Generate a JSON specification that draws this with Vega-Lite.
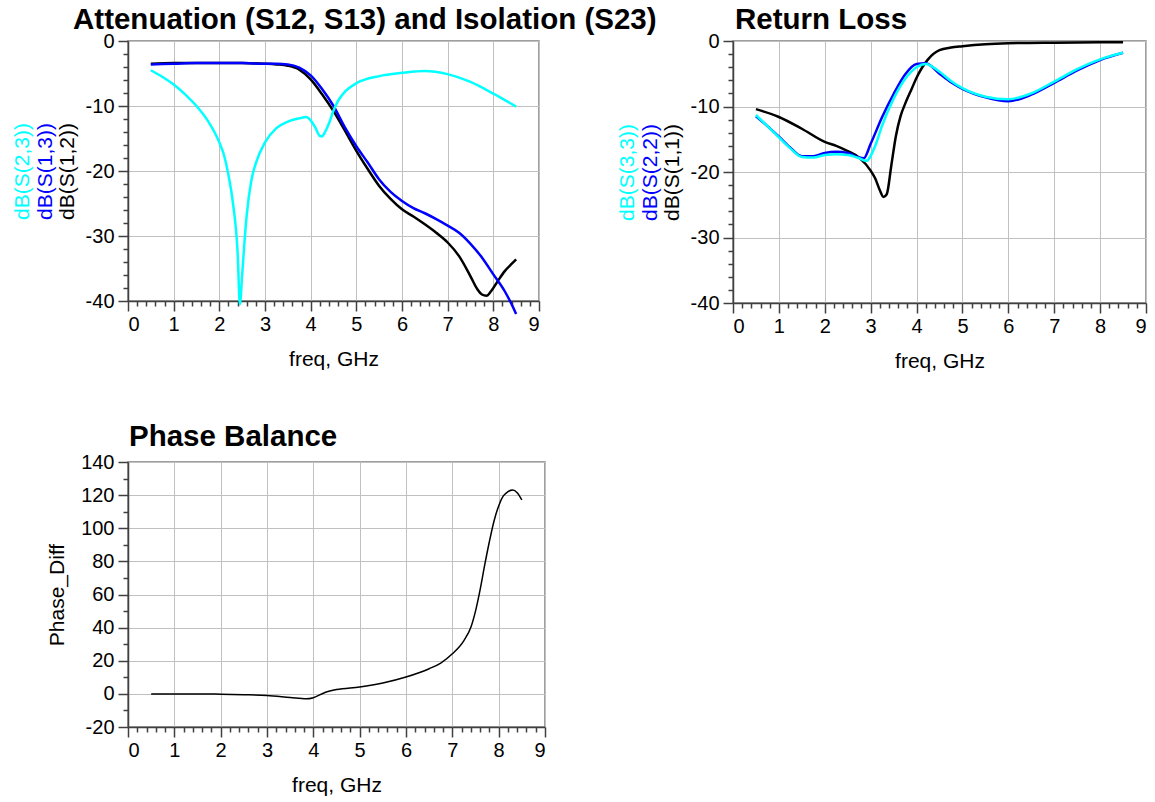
{
  "$schema": "https://vega.github.io/schema/vega-lite/v6.json",
  "padding": {"left": 10, "top": 3, "right": 5, "bottom": 0},
  "config": {
    "font": "Liberation Sans",
    "locale": {"number": {"decimal": ".", "thousands": ",", "grouping": [3], "currency": ["$", ""], "minus": "-"}},
    "view": {"stroke": "#808080", "strokeWidth": 1.5},
    "axis": {
      "labelFont": "Liberation Sans", "labelFontSize": 20, "labelColor": "#000000",
      "titleFont": "Liberation Sans", "titleFontSize": 21, "titleFontWeight": "normal", "titleColor": "#000000",
      "gridColor": "#c0c0c0", "gridOpacity": 1, "gridWidth": 1,
      "domainColor": "#404040", "domainWidth": 1.5, "tickColor": "#404040", "tickWidth": 1.5
    },
    "title": {"font": "Liberation Sans", "fontSize": 29.5, "fontWeight": "bold", "anchor": "start", "color": "#000000", "frame": "group", "baseline": "alphabetic"},
    "line": {"clip": true, "interpolate": "monotone", "strokeWidth": 2.5}
  },
  "datasets": {
    "att": [
      {"f": 0.5, "trace": "S12", "v": -3.5}, {"f": 1, "trace": "S12", "v": -3.4}, {"f": 1.5, "trace": "S12", "v": -3.4}, {"f": 2, "trace": "S12", "v": -3.4}, {"f": 2.5, "trace": "S12", "v": -3.4}, {"f": 3, "trace": "S12", "v": -3.5}, {"f": 3.25, "trace": "S12", "v": -3.6}, {"f": 3.5, "trace": "S12", "v": -3.8}, {"f": 3.75, "trace": "S12", "v": -4.4}, {"f": 4, "trace": "S12", "v": -5.9}, {"f": 4.25, "trace": "S12", "v": -8.2}, {"f": 4.5, "trace": "S12", "v": -10.8}, {"f": 4.75, "trace": "S12", "v": -13.8}, {"f": 5, "trace": "S12", "v": -16.9}, {"f": 5.25, "trace": "S12", "v": -19.7}, {"f": 5.5, "trace": "S12", "v": -22.3}, {"f": 5.75, "trace": "S12", "v": -24.3}, {"f": 6, "trace": "S12", "v": -25.9}, {"f": 6.25, "trace": "S12", "v": -27.0}, {"f": 6.5, "trace": "S12", "v": -28.2}, {"f": 6.75, "trace": "S12", "v": -29.5}, {"f": 7, "trace": "S12", "v": -31.0}, {"f": 7.25, "trace": "S12", "v": -33.1}, {"f": 7.5, "trace": "S12", "v": -36.2}, {"f": 7.65, "trace": "S12", "v": -38.2}, {"f": 7.75, "trace": "S12", "v": -39.0}, {"f": 7.85, "trace": "S12", "v": -39.2}, {"f": 7.95, "trace": "S12", "v": -38.5}, {"f": 8.1, "trace": "S12", "v": -36.9}, {"f": 8.25, "trace": "S12", "v": -35.4}, {"f": 8.4, "trace": "S12", "v": -34.3}, {"f": 8.5, "trace": "S12", "v": -33.6},
      {"f": 0.5, "trace": "S13", "v": -3.6}, {"f": 1, "trace": "S13", "v": -3.5}, {"f": 1.5, "trace": "S13", "v": -3.4}, {"f": 2, "trace": "S13", "v": -3.4}, {"f": 2.5, "trace": "S13", "v": -3.4}, {"f": 3, "trace": "S13", "v": -3.5}, {"f": 3.25, "trace": "S13", "v": -3.5}, {"f": 3.5, "trace": "S13", "v": -3.6}, {"f": 3.75, "trace": "S13", "v": -4.1}, {"f": 4, "trace": "S13", "v": -5.3}, {"f": 4.25, "trace": "S13", "v": -7.4}, {"f": 4.5, "trace": "S13", "v": -10.0}, {"f": 4.75, "trace": "S13", "v": -13.3}, {"f": 5, "trace": "S13", "v": -16.2}, {"f": 5.25, "trace": "S13", "v": -18.7}, {"f": 5.5, "trace": "S13", "v": -21.3}, {"f": 5.75, "trace": "S13", "v": -23.2}, {"f": 6, "trace": "S13", "v": -24.6}, {"f": 6.25, "trace": "S13", "v": -25.7}, {"f": 6.5, "trace": "S13", "v": -26.5}, {"f": 6.75, "trace": "S13", "v": -27.4}, {"f": 7, "trace": "S13", "v": -28.4}, {"f": 7.25, "trace": "S13", "v": -29.5}, {"f": 7.5, "trace": "S13", "v": -31.2}, {"f": 7.75, "trace": "S13", "v": -33.3}, {"f": 8, "trace": "S13", "v": -35.9}, {"f": 8.25, "trace": "S13", "v": -38.5}, {"f": 8.4, "trace": "S13", "v": -40.5}, {"f": 8.5, "trace": "S13", "v": -42},
      {"f": 0.5, "trace": "S23", "v": -4.5}, {"f": 0.75, "trace": "S23", "v": -5.5}, {"f": 1, "trace": "S23", "v": -6.7}, {"f": 1.25, "trace": "S23", "v": -8.2}, {"f": 1.5, "trace": "S23", "v": -10.0}, {"f": 1.75, "trace": "S23", "v": -12.3}, {"f": 2, "trace": "S23", "v": -15.6}, {"f": 2.1, "trace": "S23", "v": -17.5}, {"f": 2.2, "trace": "S23", "v": -20.6}, {"f": 2.3, "trace": "S23", "v": -25.0}, {"f": 2.4, "trace": "S23", "v": -32.5}, {"f": 2.45, "trace": "S23", "v": -40.5}, {"f": 2.5, "trace": "S23", "v": -36}, {"f": 2.55, "trace": "S23", "v": -31}, {"f": 2.6, "trace": "S23", "v": -26.8}, {"f": 2.7, "trace": "S23", "v": -21.5}, {"f": 2.8, "trace": "S23", "v": -18.8}, {"f": 3, "trace": "S23", "v": -15.6}, {"f": 3.25, "trace": "S23", "v": -13.4}, {"f": 3.5, "trace": "S23", "v": -12.4}, {"f": 3.75, "trace": "S23", "v": -11.9}, {"f": 3.9, "trace": "S23", "v": -11.7}, {"f": 4, "trace": "S23", "v": -12.2}, {"f": 4.1, "trace": "S23", "v": -13.3}, {"f": 4.2, "trace": "S23", "v": -14.6}, {"f": 4.25, "trace": "S23", "v": -14.7}, {"f": 4.3, "trace": "S23", "v": -14.2}, {"f": 4.4, "trace": "S23", "v": -12.7}, {"f": 4.5, "trace": "S23", "v": -10.7}, {"f": 4.6, "trace": "S23", "v": -9.2}, {"f": 4.75, "trace": "S23", "v": -7.8}, {"f": 5, "trace": "S23", "v": -6.5}, {"f": 5.5, "trace": "S23", "v": -5.4}, {"f": 6, "trace": "S23", "v": -4.9}, {"f": 6.5, "trace": "S23", "v": -4.6}, {"f": 7, "trace": "S23", "v": -5.1}, {"f": 7.5, "trace": "S23", "v": -6.3}, {"f": 8, "trace": "S23", "v": -8.1}, {"f": 8.5, "trace": "S23", "v": -10.1}
    ],
    "ret": [
      {"f": 0.5, "trace": "S11", "v": -10.4}, {"f": 1, "trace": "S11", "v": -11.6}, {"f": 1.5, "trace": "S11", "v": -13.4}, {"f": 2, "trace": "S11", "v": -15.4}, {"f": 2.25, "trace": "S11", "v": -16.0}, {"f": 2.5, "trace": "S11", "v": -16.8}, {"f": 2.75, "trace": "S11", "v": -17.8}, {"f": 3, "trace": "S11", "v": -19.8}, {"f": 3.1, "trace": "S11", "v": -21.0}, {"f": 3.2, "trace": "S11", "v": -22.8}, {"f": 3.28, "trace": "S11", "v": -23.8}, {"f": 3.35, "trace": "S11", "v": -23.4}, {"f": 3.45, "trace": "S11", "v": -19.0}, {"f": 3.55, "trace": "S11", "v": -14.5}, {"f": 3.65, "trace": "S11", "v": -11.5}, {"f": 3.75, "trace": "S11", "v": -9.6}, {"f": 3.9, "trace": "S11", "v": -7.2}, {"f": 4, "trace": "S11", "v": -5.6}, {"f": 4.25, "trace": "S11", "v": -2.8}, {"f": 4.5, "trace": "S11", "v": -1.4}, {"f": 4.75, "trace": "S11", "v": -1.0}, {"f": 5, "trace": "S11", "v": -0.8}, {"f": 5.5, "trace": "S11", "v": -0.5}, {"f": 6, "trace": "S11", "v": -0.35}, {"f": 7, "trace": "S11", "v": -0.25}, {"f": 8, "trace": "S11", "v": -0.2}, {"f": 8.5, "trace": "S11", "v": -0.2},
      {"f": 0.5, "trace": "S22", "v": -11.5}, {"f": 0.75, "trace": "S22", "v": -13.0}, {"f": 1, "trace": "S22", "v": -14.6}, {"f": 1.25, "trace": "S22", "v": -16.3}, {"f": 1.5, "trace": "S22", "v": -17.6}, {"f": 1.75, "trace": "S22", "v": -17.6}, {"f": 2, "trace": "S22", "v": -17.1}, {"f": 2.25, "trace": "S22", "v": -16.9}, {"f": 2.5, "trace": "S22", "v": -17.1}, {"f": 2.75, "trace": "S22", "v": -17.8}, {"f": 2.85, "trace": "S22", "v": -17.9}, {"f": 3, "trace": "S22", "v": -15.7}, {"f": 3.25, "trace": "S22", "v": -11.6}, {"f": 3.5, "trace": "S22", "v": -8.1}, {"f": 3.75, "trace": "S22", "v": -5.1}, {"f": 4, "trace": "S22", "v": -3.5}, {"f": 4.2, "trace": "S22", "v": -3.4}, {"f": 4.5, "trace": "S22", "v": -5.0}, {"f": 4.75, "trace": "S22", "v": -6.3}, {"f": 5, "trace": "S22", "v": -7.3}, {"f": 5.5, "trace": "S22", "v": -8.6}, {"f": 6, "trace": "S22", "v": -9.2}, {"f": 6.5, "trace": "S22", "v": -8.2}, {"f": 7, "trace": "S22", "v": -6.4}, {"f": 7.5, "trace": "S22", "v": -4.5}, {"f": 8, "trace": "S22", "v": -2.9}, {"f": 8.5, "trace": "S22", "v": -1.8},
      {"f": 0.5, "trace": "S33", "v": -11.3}, {"f": 0.75, "trace": "S33", "v": -13.0}, {"f": 1, "trace": "S33", "v": -14.7}, {"f": 1.25, "trace": "S33", "v": -16.4}, {"f": 1.5, "trace": "S33", "v": -17.7}, {"f": 1.75, "trace": "S33", "v": -17.8}, {"f": 2, "trace": "S33", "v": -17.4}, {"f": 2.25, "trace": "S33", "v": -17.3}, {"f": 2.5, "trace": "S33", "v": -17.4}, {"f": 2.75, "trace": "S33", "v": -17.9}, {"f": 2.9, "trace": "S33", "v": -18.3}, {"f": 3.1, "trace": "S33", "v": -16.0}, {"f": 3.25, "trace": "S33", "v": -12.9}, {"f": 3.5, "trace": "S33", "v": -8.8}, {"f": 3.75, "trace": "S33", "v": -5.8}, {"f": 4, "trace": "S33", "v": -4.0}, {"f": 4.2, "trace": "S33", "v": -3.5}, {"f": 4.5, "trace": "S33", "v": -4.7}, {"f": 4.75, "trace": "S33", "v": -6.1}, {"f": 5, "trace": "S33", "v": -7.2}, {"f": 5.5, "trace": "S33", "v": -8.5}, {"f": 6, "trace": "S33", "v": -8.9}, {"f": 6.5, "trace": "S33", "v": -8.0}, {"f": 7, "trace": "S33", "v": -6.2}, {"f": 7.5, "trace": "S33", "v": -4.3}, {"f": 8, "trace": "S33", "v": -2.8}, {"f": 8.5, "trace": "S33", "v": -1.8}
    ],
    "phase": [
      {"f": 0.5, "v": 0}, {"f": 1, "v": 0}, {"f": 1.5, "v": 0}, {"f": 2, "v": -0.2}, {"f": 2.5, "v": -0.5}, {"f": 3, "v": -1.0}, {"f": 3.5, "v": -2.2}, {"f": 3.85, "v": -3.0}, {"f": 4, "v": -2.3}, {"f": 4.25, "v": 0.8}, {"f": 4.5, "v": 2.6}, {"f": 5, "v": 4.2}, {"f": 5.5, "v": 6.6}, {"f": 6, "v": 10.2}, {"f": 6.5, "v": 15.2}, {"f": 6.75, "v": 18.6}, {"f": 7, "v": 24.2}, {"f": 7.25, "v": 32.2}, {"f": 7.4, "v": 40.2}, {"f": 7.5, "v": 50}, {"f": 7.6, "v": 63}, {"f": 7.7, "v": 78}, {"f": 7.8, "v": 92}, {"f": 7.9, "v": 104.4}, {"f": 8.0, "v": 113.5}, {"f": 8.1, "v": 119.5}, {"f": 8.2, "v": 122.1}, {"f": 8.3, "v": 123.1}, {"f": 8.4, "v": 121.5}, {"f": 8.5, "v": 117.1}
    ]
  },
  "columns": 2,
  "bounds": "flush",
  "spacing": {"column": 188, "row": 159},
  "concat": [
    {
      "width": 411, "height": 260,
      "title": {"text": "Attenuation (S12, S13) and Isolation (S23)", "dx": -55, "offset": -4},
      "data": {"name": "att"},
      "layer": [
        {
          "transform": [{"filter": "datum.trace === 'S12'"}],
          "mark": {"type": "line", "color": "#000000"},
          "encoding": {
            "x": {"field": "f", "type": "quantitative", "scale": {"domain": [0, 9], "nice": false, "zero": false},
              "axis": {"orient": "bottom", "values": [0,1,2,3,4,5,6,7,8,9], "grid": true, "tickSize": 10, "labelPadding": 3, "title": "freq, GHz", "titlePadding": 14}},
            "y": {"field": "v", "type": "quantitative", "scale": {"domain": [-40, 0], "nice": false, "zero": false},
              "axis": {"orient": "left", "values": [-40,-30,-20,-10,0], "grid": true, "tickSize": 10, "labelPadding": 4, "title": "dB(S(1,2))", "titlePadding": 8}}
          }
        },
        {
          "transform": [{"filter": "datum.trace === 'S13'"}],
          "mark": {"type": "line", "color": "#0000ff"},
          "encoding": {
            "x": {"field": "f", "type": "quantitative",
              "axis": {"orient": "bottom", "values": [0.2,0.4,0.6,0.8,1.2,1.4,1.6,1.8,2.2,2.4,2.6,2.8,3.2,3.4,3.6,3.8,4.2,4.4,4.6,4.8,5.2,5.4,5.6,5.8,6.2,6.4,6.6,6.8,7.2,7.4,7.6,7.8,8.2,8.4,8.6,8.8], "grid": false, "labels": false, "domain": false, "tickSize": 5, "title": null}},
            "y": {"field": "v", "type": "quantitative",
              "axis": {"orient": "left", "values": [-38,-36,-34,-32,-28,-26,-24,-22,-18,-16,-14,-12,-8,-6,-4,-2], "grid": false, "labels": false, "domain": false, "tickSize": 5, "title": "dB(S(1,3))", "titleColor": "#0000ff", "titlePadding": 67}}
          }
        },
        {
          "transform": [{"filter": "datum.trace === 'S23'"}],
          "mark": {"type": "line", "color": "#00ffff"},
          "encoding": {
            "x": {"field": "f", "type": "quantitative", "axis": null},
            "y": {"field": "v", "type": "quantitative",
              "axis": {"orient": "left", "grid": false, "labels": false, "domain": false, "ticks": false, "title": "dB(S(2,3))", "titleColor": "#00ffff", "titlePadding": 96}}
          }
        }
      ],
      "resolve": {"axis": {"x": "independent", "y": "independent"}}
    },
    {
      "width": 413, "height": 262,
      "title": {"text": "Return Loss", "dx": 2, "offset": -4},
      "data": {"name": "ret"},
      "layer": [
        {
          "transform": [{"filter": "datum.trace === 'S11'"}],
          "mark": {"type": "line", "color": "#000000"},
          "encoding": {
            "x": {"field": "f", "type": "quantitative", "scale": {"domain": [0, 9], "nice": false, "zero": false},
              "axis": {"orient": "bottom", "values": [0,1,2,3,4,5,6,7,8,9], "grid": true, "tickSize": 10, "labelPadding": 3, "title": "freq, GHz", "titlePadding": 14}},
            "y": {"field": "v", "type": "quantitative", "scale": {"domain": [-40, 0], "nice": false, "zero": false},
              "axis": {"orient": "left", "values": [-40,-30,-20,-10,0], "grid": true, "tickSize": 10, "labelPadding": 4, "title": "dB(S(1,1))", "titlePadding": 8}}
          }
        },
        {
          "transform": [{"filter": "datum.trace === 'S22'"}],
          "mark": {"type": "line", "color": "#0000ff"},
          "encoding": {
            "x": {"field": "f", "type": "quantitative",
              "axis": {"orient": "bottom", "values": [0.2,0.4,0.6,0.8,1.2,1.4,1.6,1.8,2.2,2.4,2.6,2.8,3.2,3.4,3.6,3.8,4.2,4.4,4.6,4.8,5.2,5.4,5.6,5.8,6.2,6.4,6.6,6.8,7.2,7.4,7.6,7.8,8.2,8.4,8.6,8.8], "grid": false, "labels": false, "domain": false, "tickSize": 5, "title": null}},
            "y": {"field": "v", "type": "quantitative",
              "axis": {"orient": "left", "values": [-38,-36,-34,-32,-28,-26,-24,-22,-18,-16,-14,-12,-8,-6,-4,-2], "grid": false, "labels": false, "domain": false, "tickSize": 5, "title": "dB(S(2,2))", "titleColor": "#0000ff", "titlePadding": 67}}
          }
        },
        {
          "transform": [{"filter": "datum.trace === 'S33'"}],
          "mark": {"type": "line", "color": "#00ffff"},
          "encoding": {
            "x": {"field": "f", "type": "quantitative", "axis": null},
            "y": {"field": "v", "type": "quantitative",
              "axis": {"orient": "left", "grid": false, "labels": false, "domain": false, "ticks": false, "title": "dB(S(3,3))", "titleColor": "#00ffff", "titlePadding": 96}}
          }
        }
      ],
      "resolve": {"axis": {"x": "independent", "y": "independent"}}
    },
    {
      "width": 417, "height": 265,
      "title": {"text": "Phase Balance", "dx": 1, "offset": 0},
      "data": {"name": "phase"},
      "layer": [
        {
          "mark": {"type": "line", "color": "#000000", "strokeWidth": 1.5},
          "encoding": {
            "x": {"field": "f", "type": "quantitative", "scale": {"domain": [0, 9], "nice": false, "zero": false},
              "axis": {"orient": "bottom", "values": [0,1,2,3,4,5,6,7,8,9], "grid": true, "tickSize": 10, "labelPadding": 3, "title": "freq, GHz", "titlePadding": 14}},
            "y": {"field": "v", "type": "quantitative", "scale": {"domain": [-20, 140], "nice": false, "zero": false},
              "axis": {"orient": "left", "values": [-20,0,20,40,60,80,100,120,140], "grid": true, "tickSize": 10, "labelPadding": 4, "title": "Phase_Diff", "titlePadding": 13}}
          }
        },
        {
          "mark": {"type": "line", "color": "#000000", "strokeWidth": 1.5, "opacity": 0},
          "encoding": {
            "x": {"field": "f", "type": "quantitative",
              "axis": {"orient": "bottom", "values": [0.2,0.4,0.6,0.8,1.2,1.4,1.6,1.8,2.2,2.4,2.6,2.8,3.2,3.4,3.6,3.8,4.2,4.4,4.6,4.8,5.2,5.4,5.6,5.8,6.2,6.4,6.6,6.8,7.2,7.4,7.6,7.8,8.2,8.4,8.6,8.8], "grid": false, "labels": false, "domain": false, "tickSize": 5, "title": null}},
            "y": {"field": "v", "type": "quantitative",
              "axis": {"orient": "left", "values": [-10,10,30,50,70,90,110,130], "grid": false, "labels": false, "domain": false, "tickSize": 5, "title": null}}
          }
        }
      ],
      "resolve": {"axis": {"x": "independent", "y": "independent"}}
    }
  ]
}
